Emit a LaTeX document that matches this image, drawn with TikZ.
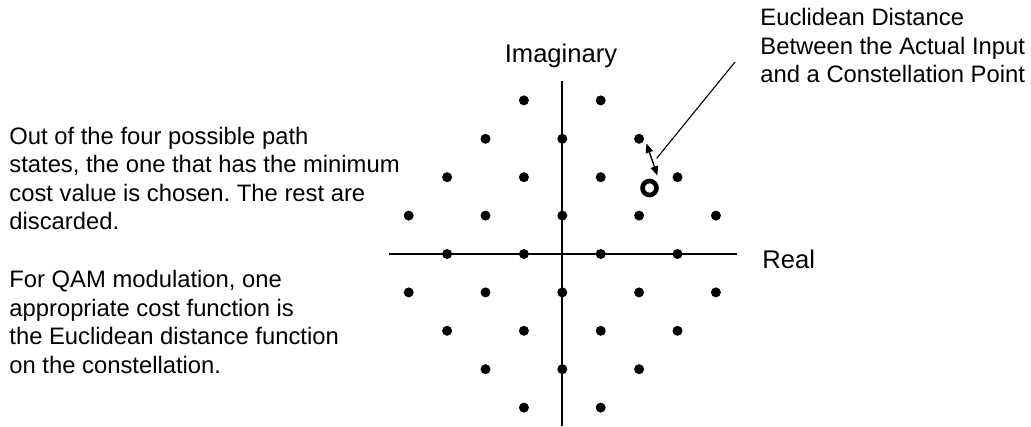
\documentclass[tikz,border=0pt]{standalone}
\usepackage{fontspec}
\setmainfont{Liberation Sans}
\frenchspacing
\usetikzlibrary{arrows.meta,positioning}

\begin{document}
\begin{tikzpicture}[
    x=0.5pt, y=-0.5pt,
    note/.style={align=left, anchor=base west, inner sep=0pt,
                 font=\fontsize{11.9}{14.25}\selectfont},
    axislabel/.style={inner sep=0pt, font=\fontsize{12.8}{15}\selectfont},
    axis/.style={line width=0.9pt},
    dot/.style={circle, fill=black, inner sep=0pt, minimum size=5pt},
    sample/.style={circle, draw=black, line width=2.3pt, inner sep=0pt, minimum size=7pt},
    dist/.style={{Triangle[length=4.6pt,width=3.8pt]}-{Triangle[length=4.6pt,width=3.8pt]}, line width=0.65pt},
    leader/.style={line width=0.55pt},
]
\useasboundingbox (0,0) rectangle (1031,427);

% =====================  AXES  =====================
\coordinate (imtop) at (562.3,81);
\coordinate (imbot) at (562.3,426);
\coordinate (releft) at (389,254);
\coordinate (reright) at (737,254);
\draw[axis] (imtop) -- (imbot);
\draw[axis] (releft) -- (reright);

\node[axislabel, anchor=base] (imag) at (561,63) {Imaginary};
\node[axislabel, anchor=base west] (real) at (762,268) {Real};

% =====================  CONSTELLATION  =====================
\foreach \j/\cols in {-4/{-1,1}, -3/{-2,0,2}, -2/{-3,-1,1,3}, -1/{-4,-2,0,2,4},
                      0/{-3,-1,1,3}, 1/{-4,-2,0,2,4}, 2/{-3,-1,1,3},
                      3/{-2,0,2}, 4/{-1,1}}
  \foreach \i in \cols
    \node[dot] (pt\i\j) at ({562.3+38.4*\i},{254+38.4*\j}) {};

% the actual input
\node[sample] (input) at (649.5,188) {};

% distance between input and nearest point
\coordinate (dtop) at (646.5,143.5);
\coordinate (dbot) at (657.3,175.5);
\draw[dist] (dtop) -- (dbot);

% =====================  NOTES  =====================
% (base of a multi-line note = baseline of its last line)
\node[note] (eucl) at (760,83)
  {Euclidean Distance\\Between the Actual Input\\and a Constellation Point};
\coordinate (lfoot) at (656.7,158.3);
\coordinate (lhead) at (735,62);
\draw[leader] (lfoot) -- (lhead);

\node[note] (paths) at (9,229.5)
  {Out of the four possible path\\states, the one that has the minimum\\cost value is chosen. The rest are\\discarded.};
\node[note] (qam) at (9,373)
  {For QAM modulation, one\\appropriate cost function is\\the Euclidean distance function\\on the constellation.};

\end{tikzpicture}
\end{document}
